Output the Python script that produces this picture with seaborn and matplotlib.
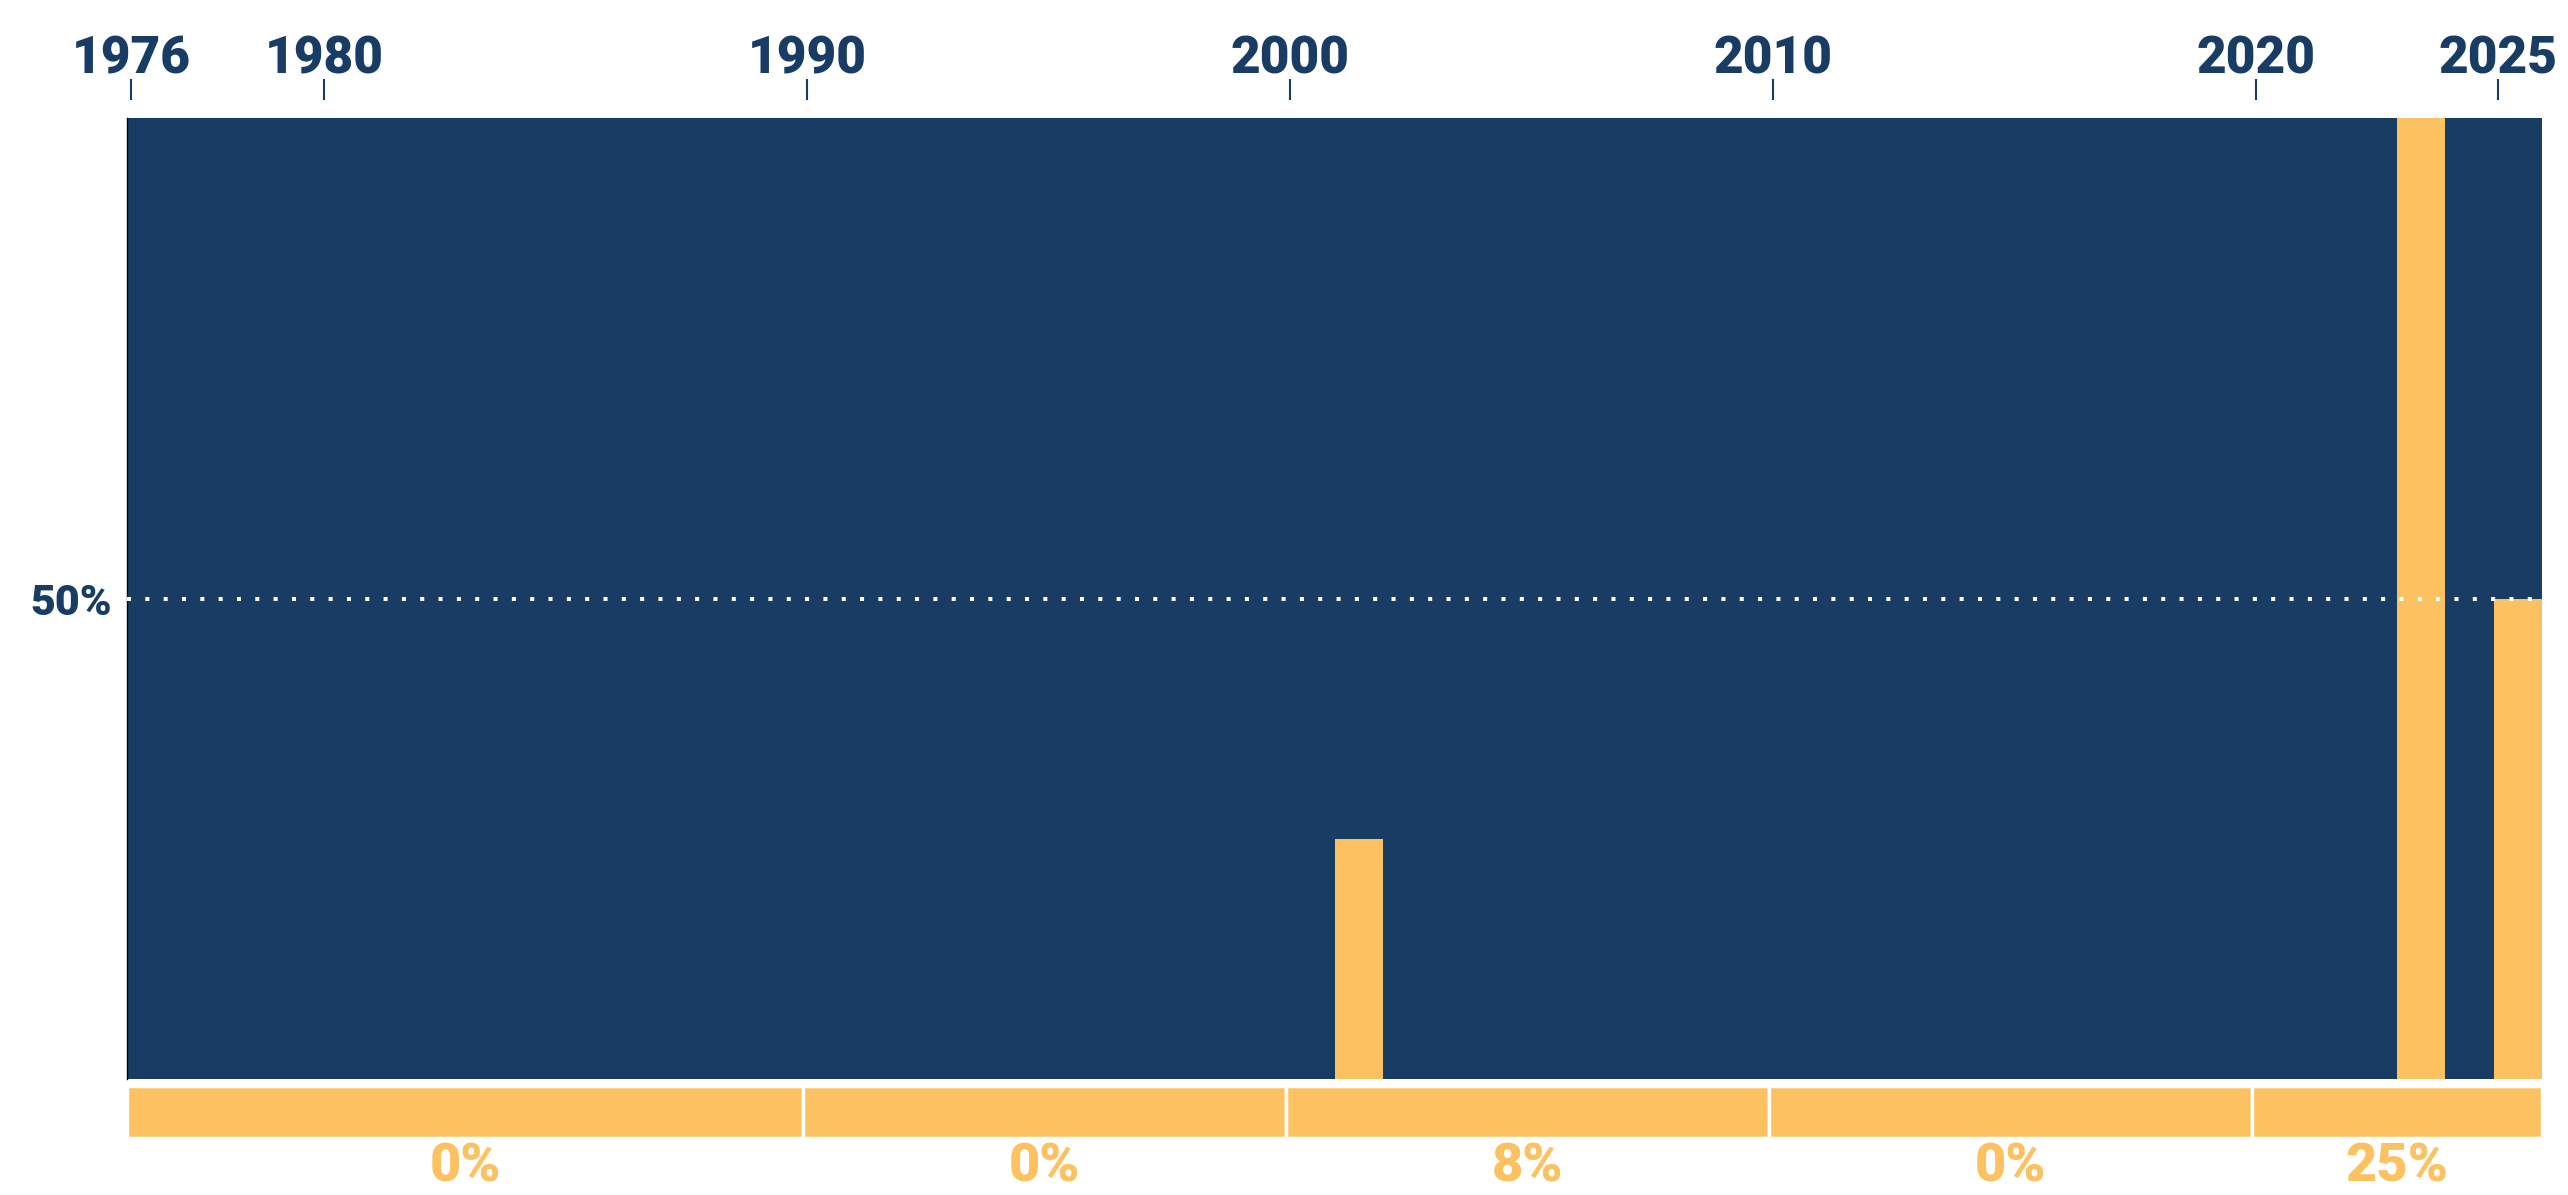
import numpy as np
import pandas as pd
import matplotlib
matplotlib.use("Agg")
import matplotlib.pyplot as plt
import seaborn as sns

# yearly share (%) of the yellow group, 1976-2025
years = [str(y) for y in range(1976, 2026)]
share = [0, 0, 0, 0, 0, 0, 0, 0, 0, 0,
         0, 0, 0, 0, 0, 0, 0, 0, 0, 0,
         0, 0, 0, 0, 0, 25, 0, 0, 0, 0,
         0, 0, 0, 0, 0, 0, 0, 0, 0, 0,
         0, 0, 0, 0, 0, 0, 0, 100, 0, 50]
total = [100] * len(years)

# period summary bands
band_start = [1976, 1990, 2000, 2010, 2020]
band_end = [1990, 2000, 2010, 2020, 2026]
band_share = [0, 0, 8, 0, 25]

tick_years = [1976, 1980, 1990, 2000, 2010, 2020, 2025]

NAVY = "#183C63"
YELLOW = "#FCC261"

sns.set_style("white")
plt.rcParams['font.family'] = ['Roboto', 'DejaVu Sans']

df = pd.DataFrame({"year": years, "share": share, "total": total})

fig = plt.figure(figsize=(25.68, 11.95), dpi=100)
ax = fig.add_axes([0.04946, 0.09707, 0.94042, 0.80418])

sns.barplot(data=df, x="year", y="total", color=NAVY, width=1.0,
            errorbar=None, linewidth=0, saturation=1, ax=ax)
sns.barplot(data=df, x="year", y="share", color=YELLOW, width=1.0,
            errorbar=None, linewidth=0, saturation=1, ax=ax)

ax.set_xlim(-0.5, len(years) - 0.5)
ax.set_ylim(0, 100)
ax.set_xlabel("")
ax.set_ylabel("")

ax.axhline(50, color="white", lw=2.9, linestyle=(0, (1, 3.55)),
           dash_capstyle="butt", zorder=5)

# top year ticks, set a little above the plot
ax.xaxis.tick_top()
ax.set_xticks([y - 1976 - 0.42 for y in tick_years])
ax.set_xticklabels([str(y) for y in tick_years])
ax.spines['top'].set_position(('outward', 13))
ax.tick_params(axis='x', top=True, bottom=False, length=15, width=1.5,
               color=NAVY, pad=-4, labelsize=37, labelcolor=NAVY)
for lbl in ax.get_xticklabels():
    lbl.set_fontweight(900)

ax.set_yticks([50])
ax.set_yticklabels(["50%"])
ax.tick_params(axis='y', left=False, length=0, pad=11, labelsize=31,
               labelcolor=NAVY)
for lbl in ax.get_yticklabels():
    lbl.set_fontweight(900)

for s in ["top", "right", "bottom"]:
    ax.spines[s].set_visible(False)
ax.spines["left"].set_color("black")
ax.spines["left"].set_linewidth(1)

# bottom band axis
bax = fig.add_axes([0.04946, 0.0477, 0.94042, 0.0435])
lefts = [s - 1976 - 0.5 for s in band_start]
widths = [e - s for s, e in zip(band_start, band_end)]
bax.bar(lefts, [1] * len(lefts), width=widths, align="edge", color=YELLOW,
        edgecolor="white", linewidth=2.5)
bax.set_xlim(-0.5, len(years) - 0.5)
bax.set_ylim(0, 1)
bax.axis("off")
for l, w, v in zip(lefts, widths, band_share):
    bax.text(l + w / 2, -0.56, f"{v}%", transform=bax.get_xaxis_transform(),
             ha="center", va="center", fontsize=39, fontweight=900,
             color=YELLOW)

fig.savefig("out.png", dpi=100)
